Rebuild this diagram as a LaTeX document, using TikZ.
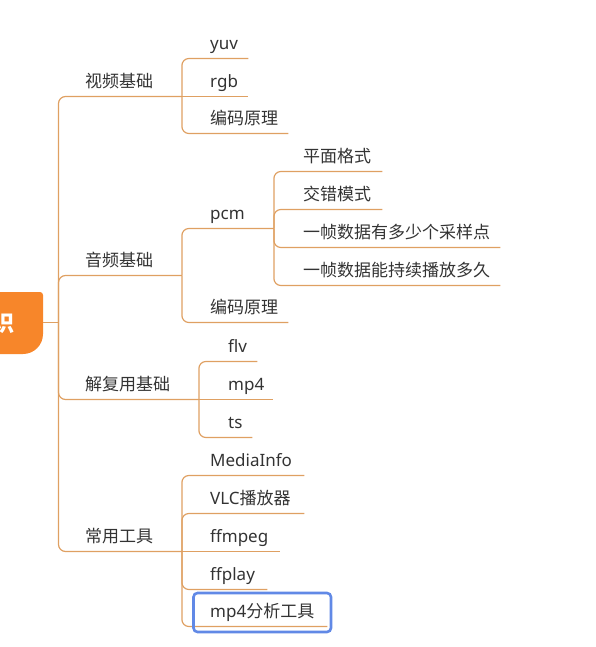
\documentclass[tikz,border=0pt]{standalone}
\usepackage{fontspec}
\setmainfont{Noto Sans CJK SC}
\newfontfamily\latinfont{Noto Sans}
\usepackage{xcolor}
\usepackage{tikz}

\definecolor{branchorange}{HTML}{DFA062}
\definecolor{rootorange}{HTML}{F7862A}
\definecolor{textgray}{HTML}{333333}
\definecolor{selblue}{HTML}{6189E6}

\begin{document}
\begin{tikzpicture}[x=1pt,y=-1pt,
  branch/.style={draw=branchorange,line width=1.2pt,rounded corners=7pt},
  topic/.style={anchor=south west,inner xsep=0pt,inner ysep=0pt,text depth=8.5pt,
    align=left,text=textgray,font=\fontsize{17}{20}\selectfont},
  selbox/.style={draw=selblue,line width=2.6pt,rounded corners=4pt}]
\useasboundingbox (0,0) rectangle (596,647);

% root, cut off at the left edge
\fill[rootorange] (-30,292) [rounded corners=3pt] -- (43,292) -- (43,320)
  [rounded corners=20pt] -- (43,354) -- (-30,354) [sharp corners] -- cycle;
\node[text=white,font=\fontsize{22}{22}\selectfont\bfseries] (root) at (4,323) {识};
\coordinate (rootedge) at (43,322.5);
\coordinate (trunk) at (58.5,322.5);

% first level
\node[topic,text width=96.5pt] (video) at (85,96.5) {视频基础};
\node[topic,text width=96.5pt] (audio) at (85,275.5) {音频基础};
\node[topic,text width=113.5pt] (demux) at (85,399.5) {解复用基础};
\node[topic,text width=96.5pt] (tools) at (85,551.5) {常用工具};

% video
\node[topic,text width=38pt] (yuv) at (210,58.5) {\latinfont yuv};
\node[topic,text width=38pt] (rgb) at (210,96.5) {\latinfont rgb};
\node[topic,text width=78pt] (vcodec) at (210,133.5) {编码原理};

% audio
\node[topic,text width=63.5pt] (pcm) at (210,228.5) {\latinfont pcm};
\node[topic,text width=78pt] (acodec) at (210,322.5) {编码原理};
\node[topic,text width=79pt] (planar) at (303,171.5) {平面格式};
\node[topic,text width=79pt] (packed) at (303,209.5) {交错模式};
\node[topic,text width=197pt] (samples) at (303,247.5) {一帧数据有多少个采样点};
\node[topic,text width=197pt] (duration) at (303,285.5) {一帧数据能持续播放多久};

% demux
\node[topic,text width=29pt] (flv) at (228,361.5) {\latinfont flv};
\node[topic,text width=45pt] (mp4) at (228,399.5) {\latinfont mp4};
\node[topic,text width=24pt] (ts) at (228,437.5) {\latinfont ts};

% tools
\node[topic,text width=94pt] (mediainfo) at (210,475.5) {\latinfont MediaInfo};
\node[topic,text width=94pt] (vlc) at (210,513.5) {{\latinfont VLC}播放器};
\node[topic,text width=70pt] (ffmpeg) at (210,551.5) {\latinfont ffmpeg};
\node[topic,text width=57pt] (ffplay) at (210,589.5) {\latinfont ffplay};
\node[topic,text width=117pt] (mp4tool) at (210,626.5) {{\latinfont mp4}分析工具};

% branches
\draw[branch] (rootedge) -- (trunk);
\draw[branch] (trunk) |- (video.south east);
\draw[branch] (trunk) |- (audio.south east);
\draw[branch] (trunk) |- (demux.south east);
\draw[branch] (trunk) |- (tools.south east);

\draw[branch] (video.south east) |- (yuv.south east);
\draw[branch] (video.south east) -- (video.south east -| rgb.east);
\draw[branch] (video.south east) |- (vcodec.south east);

\draw[branch] (audio.south east) |- (pcm.south east);
\draw[branch] (audio.south east) |- (acodec.south east);
\draw[branch] (pcm.south east) |- (planar.south east);
\draw[branch] (pcm.south east) |- (packed.south east);
\draw[branch] (pcm.south east) |- (samples.south east);
\draw[branch] (pcm.south east) |- (duration.south east);

\draw[branch] (demux.south east) |- (flv.south east);
\draw[branch] (demux.south east) -- (demux.south east -| mp4.east);
\draw[branch] (demux.south east) |- (ts.south east);

\draw[branch] (tools.south east) |- (mediainfo.south east);
\draw[branch] (tools.south east) |- (vlc.south east);
\draw[branch] (tools.south east) -- (tools.south east -| ffmpeg.east);
\draw[branch] (tools.south east) |- (ffplay.south east);
\draw[branch] (tools.south east) |- (mp4tool.south east);

% selection frame
\draw[selbox] (193.5,593) rectangle (331,632);
\end{tikzpicture}
\end{document}
